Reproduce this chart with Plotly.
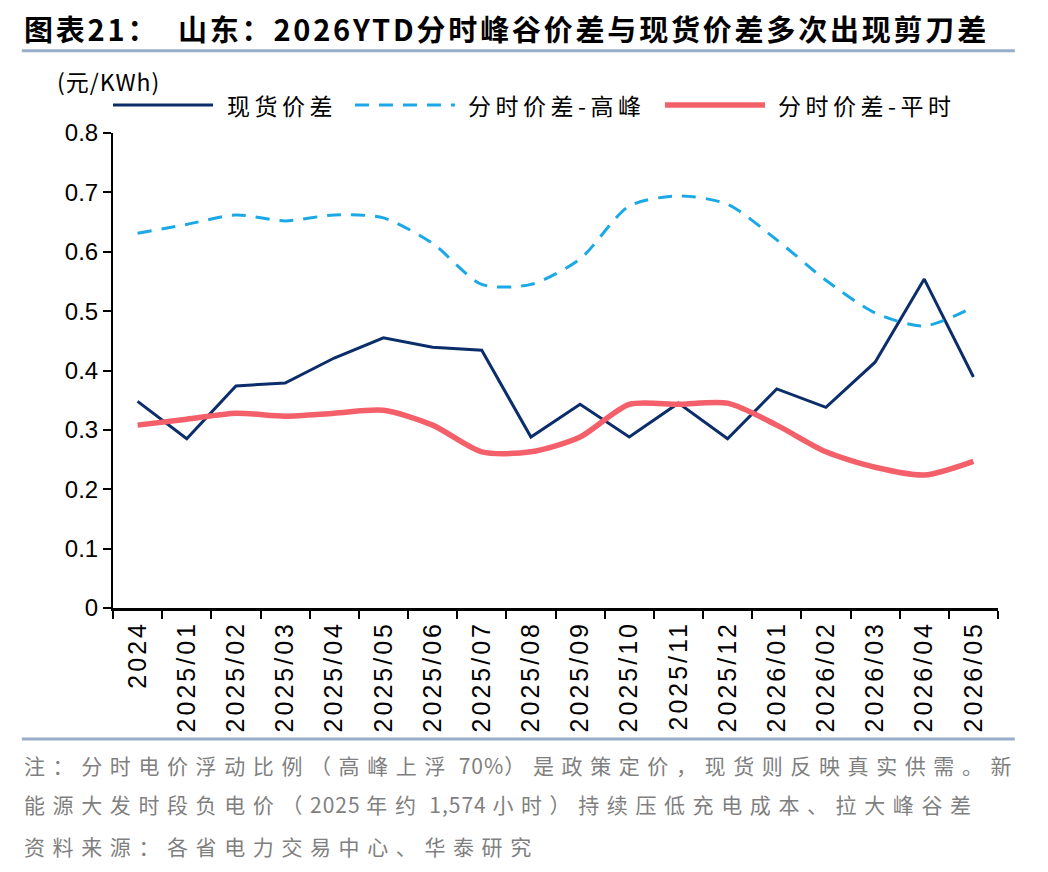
import re
import plotly.graph_objects as go

# Categories and series.
months = ['2024', '2025/01', '2025/02', '2025/03', '2025/04', '2025/05', '2025/06',
          '2025/07', '2025/08', '2025/09', '2025/10', '2025/11', '2025/12',
          '2026/01', '2026/02', '2026/03', '2026/04', '2026/05']
spot_spread = [0.348, 0.285, 0.374, 0.379, 0.421, 0.455, 0.439, 0.434, 0.288,
               0.343, 0.288, 0.345, 0.285, 0.369, 0.338, 0.414, 0.554, 0.389]
peak_spread = [0.631, 0.646, 0.662, 0.652, 0.662, 0.657, 0.614, 0.545, 0.545,
               0.588, 0.677, 0.694, 0.680, 0.620, 0.552, 0.497, 0.475, 0.507]
flat_spread = [0.308, 0.318, 0.328, 0.323, 0.328, 0.333, 0.308, 0.263, 0.263,
               0.288, 0.343, 0.343, 0.345, 0.308, 0.263, 0.237, 0.224, 0.247]
y_ticks = [0, 0.1, 0.2, 0.3, 0.4, 0.5, 0.6, 0.7, 0.8]
y_labels = ['0', '0.1', '0.2', '0.3', '0.4', '0.5', '0.6', '0.7', '0.8']

cjk = 'Noto Sans CJK SC'
latin = 'Liberation Sans, Arial'
navy = '#0B2E6B'
sky = '#1BA8E6'
red = '#F4606A'
DASH = '14px,10px'


def spaced(text, px):
    # letter-spaced text, the original typesetting is quite airy
    return '<span style="letter-spacing:%spx">%s</span>' % (px, text)


def spaced_cjk(text, px, px_ascii=1):
    # wide spacing for CJK runs only, digits stay tight;
    # spaces become no-break spaces so the tspans keep them
    parts = re.findall(r'[\x00-\x7f]+|[^\x00-\x7f]+', text)
    return ''.join(spaced(p.replace(' ', '\u00a0'), px_ascii if ord(p[0]) < 128 else px)
                   for p in parts)


fig = go.Figure()
fig.add_trace(go.Scatter(x=months, y=spot_spread, name='现货价差', mode='lines',
                         line=dict(color=navy, width=3)))
fig.add_trace(go.Scatter(x=months, y=peak_spread, name='分时价差-高峰', mode='lines',
                         line=dict(color=sky, width=3, dash=DASH, shape='spline',
                                   smoothing=0.75)))
fig.add_trace(go.Scatter(x=months, y=flat_spread, name='分时价差-平时', mode='lines',
                         line=dict(color=red, width=5.5, shape='spline', smoothing=0.75)))

# page body adds ~8px offset, margins compensate for it
fig.update_layout(
    width=1048, height=872,
    paper_bgcolor='white', plot_bgcolor='white',
    margin=dict(l=105, r=58, t=125, b=272, autoexpand=False),
    font=dict(family=cjk, size=20, color='black'),
    showlegend=False,
    xaxis=dict(type='category', showgrid=False, showline=True, linecolor='black',
               linewidth=3, ticks='outside', tickson='boundaries', ticklen=8,
               tickwidth=2, tickcolor='black', tickangle=-90, automargin=False,
               tickvals=months, ticktext=[spaced(m, 3) for m in months],
               tickfont=dict(family=latin, size=25), range=[-0.5, 17.5]),
    yaxis=dict(range=[0, 0.8], showgrid=False, showline=True, linecolor='black',
               linewidth=2, ticks='outside', ticklen=8, tickwidth=2, automargin=False,
               tickcolor='black', tickvals=y_ticks, ticktext=y_labels,
               tickfont=dict(family=latin, size=24), zeroline=False),
)

# Title and separators
fig.add_annotation(text='<b>' + spaced('图表21：  山东：2026YTD分时峰谷价差与现货价差多次出现剪刀差', 2.8) + '</b>',
                   xref='paper', yref='paper', x=-0.103, y=1.222,
                   xanchor='left', yanchor='middle', showarrow=False,
                   font=dict(family=cjk, size=29, color='black'))
fig.add_shape(type='line', xref='paper', yref='paper', x0=-0.103, x1=1.019,
              y0=1.173, y1=1.173, line=dict(color='#97ADC8', width=3))
fig.add_annotation(text=spaced('(元/KWh)', 1), xref='paper', yref='paper', x=-0.066, y=1.109,
                   xanchor='left', yanchor='middle', showarrow=False,
                   font=dict(family=cjk, size=23, color='black'))
fig.add_shape(type='line', xref='paper', yref='paper', x0=-0.103, x1=1.019,
              y0=-0.276, y1=-0.276, line=dict(color='#97ADC8', width=3))

# Legend drawn by hand so the sample lines can be as long as in the original
legend_items = [('现货价差', navy, 'solid', 3, 0.0),
                ('分时价差-高峰', sky, DASH, 3, 0.2734),
                ('分时价差-平时', red, 'solid', 5.5, 0.6237)]
for label, color, dash, width, x0 in legend_items:
    fig.add_shape(type='line', xref='paper', yref='paper', x0=x0, x1=x0 + 0.113,
                  y0=1.059, y1=1.059, line=dict(color=color, width=width, dash=dash))
    fig.add_annotation(text=spaced(label, 4.5), xref='paper', yref='paper', x=x0 + 0.126,
                       y=1.059, xanchor='left', yanchor='middle', showarrow=False,
                       font=dict(family=cjk, size=23, color='black'))

notes = ['注：分时电价浮动比例（高峰上浮 70%）是政策定价，现货则反映真实供需。新',
         '能源大发时段负电价（2025 年约 1,574 小时）持续压低充电成本、拉大峰谷差',
         '资料来源：各省电力交易中心、华泰研究']
note_y = [-0.331, -0.413, -0.500]
for line, y in zip(notes, note_y):
    fig.add_annotation(text=spaced_cjk(line, 7.6), xref='paper', yref='paper', x=-0.103,
                       y=y, xanchor='left', yanchor='middle',
                       showarrow=False, font=dict(family=cjk, size=21, color='#7F7F7F'))

fig.write_html("out.html")
